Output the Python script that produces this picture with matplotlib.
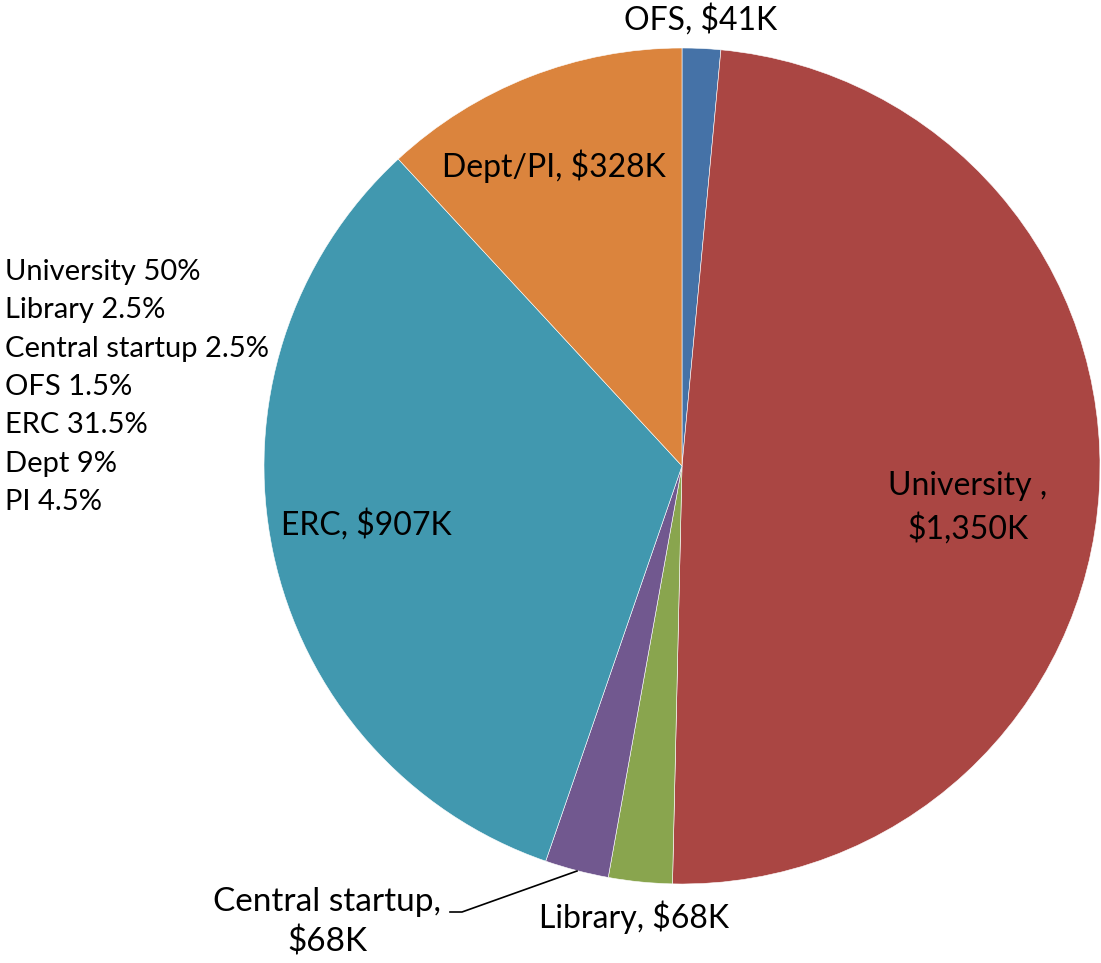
import matplotlib
matplotlib.use("Agg")
import matplotlib.pyplot as plt

# slice data, clockwise from 12 o'clock
labels = ["OFS", "University", "Library", "Central startup", "ERC", "Dept/PI"]
values_k = [41, 1350, 68, 68, 907, 328]
colors = ["#4572A7", "#AA4643", "#89A54E", "#71588F", "#4198AF", "#DB843D"]

# split text on the left
split_lines = [
    "University 50%",
    "Library 2.5%",
    "Central startup 2.5%",
    "OFS 1.5%",
    "ERC 31.5%",
    "Dept 9%",
    "PI 4.5%",
]

W, H = 1101, 963
plt.rcParams["font.family"] = ["Lato", "DejaVu Sans"]

fig = plt.figure(figsize=(W / 100, H / 100), dpi=100)
ax = fig.add_axes([0, 0, 1, 1])


def py(y):
    # pixel row (top origin) -> data y
    return H - y


ax.pie(
    values_k,
    colors=colors,
    startangle=90,
    counterclock=False,
    center=(682, py(466)),
    radius=418,
    wedgeprops={"edgecolor": "white", "linewidth": 0.4},
    frame=True,
)
ax.set_xlim(0, W)
ax.set_ylim(0, H)
ax.set_aspect("equal")
ax.axis("off")

fs = 23
txt = dict(fontsize=fs, color="black", ha="center", va="center")
ax.text(701, py(20), "OFS, $41K", **txt)
ax.text(554, py(166), "Dept/PI, $328K", **txt)
ax.text(968, py(508), "University ,\n$1,350K", linespacing=1.45, **txt)
ax.text(366, py(525), "ERC, $907K", **txt)
ax.text(634, py(917), "Library, $68K", **txt)
ax.text(327, py(922), "Central startup,\n$68K", fontsize=24, color="black",
        ha="center", va="center", linespacing=1.38)

# leader line for the small slice
ax.plot([450, 462, 577], [py(912), py(912), py(871)], color="black", lw=1.2)

ax.text(5, py(387), "\n".join(split_lines), fontsize=21, ha="left", va="center",
        linespacing=1.59)

fig.savefig("out.png", dpi=100, facecolor="white")
